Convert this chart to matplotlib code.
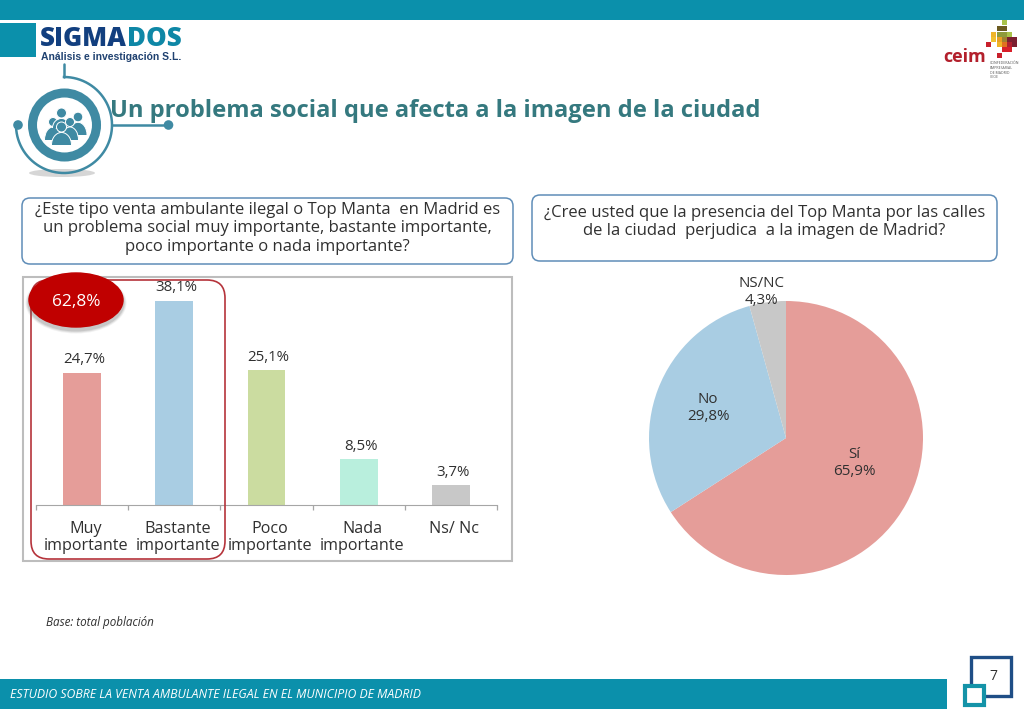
import matplotlib
matplotlib.use("Agg")
import matplotlib.pyplot as plt
import numpy as np
from matplotlib.patches import Rectangle, Circle, Ellipse, FancyBboxPatch
from matplotlib.transforms import ScaledTranslation

W, H = 1024, 709
FONT = "Open Sans"
plt.rcParams["font.family"] = [FONT, "DejaVu Sans"]

bar_categories = ["Muy\nimportante", "Bastante\nimportante", "Poco\nimportante", "Nada\nimportante", "Ns/ Nc"]
bar_values = [24.7, 38.1, 25.1, 8.5, 3.7]
bar_colors = ["#E59D99", "#A9CDE3", "#CBDCA0", "#B9EFDD", "#C8C8C8"]
pie_labels = ["Sí", "No", "NS/NC"]
pie_values = [65.9, 29.8, 4.3]
pie_colors = ["#E59D99", "#A9CDE3", "#C8C8C8"]

TEAL = "#0B90AB"
ICON = "#3F8AA3"
TXT = "#303030"

fig = plt.figure(figsize=(W / 100, H / 100), dpi=100, facecolor="white")

def axes_px(l, t, r, b, **kw):
    return fig.add_axes([l / W, 1 - b / H, (r - l) / W, (b - t) / H], **kw)

bg = axes_px(0, 0, W, H)
bg.set_xlim(0, W); bg.set_ylim(H, 0); bg.axis("off")

# bands
bg.add_patch(Rectangle((0, 0), W, 20, fc=TEAL, ec="none"))
bg.add_patch(Rectangle((0, 23), 36, 34, fc=TEAL, ec="none"))
bg.add_patch(Rectangle((0, 679), 947, 30, fc=TEAL, ec="none"))
bg.text(10, 695, "ESTUDIO SOBRE LA VENTA AMBULANTE ILEGAL EN EL MUNICIPIO DE MADRID",
        color="white", style="italic", fontsize=8.8, va="center", ha="left")

# logo
bg.text(40, 38.5, "SIGMA", color="#123F7F", fontweight="black", fontsize=18.6, va="center", ha="left")
bg.text(127, 38.5, "DOS", color="#0E87A6", fontweight="black", fontsize=18.6, va="center", ha="left")
bg.text(41, 56.5, "Análisis e investigación S.L.", color="#1F4170", fontweight="bold", fontsize=7.45,
        va="center", ha="left", family=["Liberation Sans"])

# ceim logo
bg.text(943, 57, "ceim", color="#B3202C", fontweight="bold", fontsize=13, va="center", ha="left")
for i, s in enumerate(["CONFEDERACIÓN", "EMPRESARIAL", "DE MADRID", "CEOE"]):
    bg.text(990, 63.5 + i * 4.6, s, color="#555555", fontsize=2.5, va="center", ha="left")
mosaic = [(1002, 20, "#A9C24A"), (997, 26, "#6B5A20"), (1002, 26, "#6B5A20"),
          (991, 32, "#F0B428"), (997, 32, "#8E9A3A"), (1002, 32, "#8E9A3A"), (1007, 32, "#A9C24A"),
          (991, 37, "#F0C030"), (997, 37, "#E8A020"), (1002, 37, "#A08030"), (1007, 37, "#7A1F30"), (1012, 37, "#7A1F30"),
          (997, 42, "#F0B428"), (1002, 42, "#E07020"), (1007, 42, "#B02030"), (1012, 42, "#7A1F30"),
          (1002, 47, "#D81F2A"), (1007, 47, "#D81F2A"),
          (986, 42, "#C8202C"), (997, 53, "#C8202C")]
for x, y, c in mosaic:
    bg.add_patch(Rectangle((x, y), 5.4, 5.4, fc=c, ec="none"))

# circular icon
bg.add_patch(Ellipse((62, 173), 66, 8, fc="#D6D6D6", ec="none"))
bg.add_patch(Circle((64.5, 125), 32, fc="white", ec=ICON, lw=6.5))
bg.plot([64, 64], [64, 77], color=ICON, lw=1.8, solid_capstyle="round")
ang = np.radians(np.linspace(-90, 180, 140))  # y axis points down
bg.plot(64 + 48 * np.cos(ang), 125 + 48 * np.sin(ang), color=ICON, lw=1.8)
bg.plot([112, 168], [125, 125], color=ICON, lw=1.8)
bg.add_patch(Circle((168.5, 125), 4.8, fc=ICON, ec="none"))
bg.add_patch(Circle((18, 125), 4.8, fc=ICON, ec="none"))
# people: (x, head y, head radius, shoulder half-width, foot y)
people = [(78, 117, 4.8, 9, 135), (53, 122, 4.5, 8.5, 140), (61.5, 113, 5, 9, 128),
          (70, 122, 4.5, 8.5, 140), (61.5, 127, 5, 10, 145)]
for px, py, r, w, foot in people:
    body = Ellipse((px, foot), 2 * w, 2 * (foot - py - r - 0.5), fc=ICON, ec="white", lw=0.7)
    bg.add_patch(body)
    body.set_clip_path(Rectangle((px - w - 2, py), 2 * w + 4, foot - py, transform=bg.transData))
    bg.add_patch(Circle((px, py), r, fc=ICON, ec="white", lw=0.7))

# title
bg.text(110, 111, "Un problema social que afecta a la imagen de la ciudad", color="#35797F",
        fontweight="bold", fontsize=17.15, va="center", ha="left")

# question boxes
def qbox(l, t, r, b, ty, s, fs):
    bg.add_patch(FancyBboxPatch((l + 8, t + 8), r - l - 16, b - t - 16, boxstyle="round,pad=8,rounding_size=8",
                                fc="white", ec="#5F8DB8", lw=1.1))
    bg.text((l + r) / 2, ty, s, ha="center", va="center", fontsize=fs, color=TXT, linespacing=1.22)

qbox(22, 198, 513, 264, 228.5, "¿Este tipo venta ambulante ilegal o Top Manta  en Madrid es\n"
     "un problema social muy importante, bastante importante,\npoco importante o nada importante?", 12.0)
qbox(532, 195, 997, 261, 222, "¿Cree usted que la presencia del Top Manta por las calles\n"
     "de la ciudad  perjudica  a la imagen de Madrid?", 12.0)

# chart frame
bg.add_patch(Rectangle((23, 277), 489, 284, fc="white", ec="#BDBDBD", lw=1.5))

# bars
ax = axes_px(36, 278, 497, 505)
ax.patch.set_alpha(0)
xs = range(len(bar_values))
ax.bar(xs, bar_values, width=0.41, color=bar_colors)
ax.set_xlim(-0.5, 4.5)
ax.set_ylim(0, 227 / 5.36)
ax.set_yticks([])
for s in ["top", "left", "right"]:
    ax.spines[s].set_visible(False)
ax.spines["bottom"].set_color("#A6A6A6")
ax.set_xticks(list(xs))
ax.set_xticklabels(bar_categories, fontsize=11.6, color=TXT, linespacing=1.08)
ax.tick_params(axis="x", which="major", length=0, pad=11.5)
ax.set_xticks([i - 0.5 for i in range(6)], minor=True)
ax.tick_params(axis="x", which="minor", length=3.5, color="#A6A6A6", width=0.9)
shift = ScaledTranslation(3.5 / 100, 0, fig.dpi_scale_trans)
for lab in ax.get_xticklabels():
    lab.set_transform(lab.get_transform() + shift)
for x, v in zip(xs, bar_values):
    ax.annotate(f"{v:.1f}%".replace(".", ","), (x, v), xytext=(1.5, 4), textcoords="offset points",
                ha="center", va="bottom", fontsize=10.8, color=TXT)

# pie
pax = axes_px(786 - 140, 438 - 140, 786 + 140, 438 + 140)
pax.pie(pie_values, colors=pie_colors, startangle=90, counterclock=False, radius=137 / 140,
        wedgeprops=dict(linewidth=0))
pax.set_xlim(-1, 1); pax.set_ylim(-1, 1)

# top layer
top = axes_px(0, 0, W, H)
top.set_xlim(0, W); top.set_ylim(H, 0); top.axis("off"); top.patch.set_alpha(0)
top.add_patch(FancyBboxPatch((49, 298), 158, 243, boxstyle="round,pad=18,rounding_size=18",
                             fc="none", ec="#B5333B", lw=1.2, zorder=5))
for d, a in [(7, .08), (5, .12), (3, .16)]:
    top.add_patch(Ellipse((76, 303), 94 + d, 54 + d, fc="#555555", ec="none", alpha=a, zorder=6))
top.add_patch(Ellipse((76, 300), 94, 54, fc="#C00000", ec="#C00000", zorder=7))
top.text(76, 302, "62,8%", color="white", fontsize=12.4, ha="center", va="center", zorder=8)

pie_text = [f"{n}\n{v:.1f}%".replace(".", ",") for n, v in zip(pie_labels, pie_values)]
for s, (x, y) in zip(pie_text, [(854, 463), (708, 408), (761, 292)]):
    top.text(x, y, s, fontsize=10.9, color=TXT, ha="center", va="center", linespacing=1.12, zorder=9)

# base note
top.text(46, 622.5, "Base: total población", fontsize=8.4, style="italic", color=TXT, ha="left", va="center")

# page number
top.add_patch(Rectangle((971, 657), 40, 39, fc="white", ec="#1F4E86", lw=2.4))
top.add_patch(Rectangle((964.5, 686), 19, 19, fc="white", ec="#1493A8", lw=3))
top.text(993, 676, "7", fontsize=10, color=TXT, ha="center", va="center")

fig.savefig("out.png", dpi=100)
